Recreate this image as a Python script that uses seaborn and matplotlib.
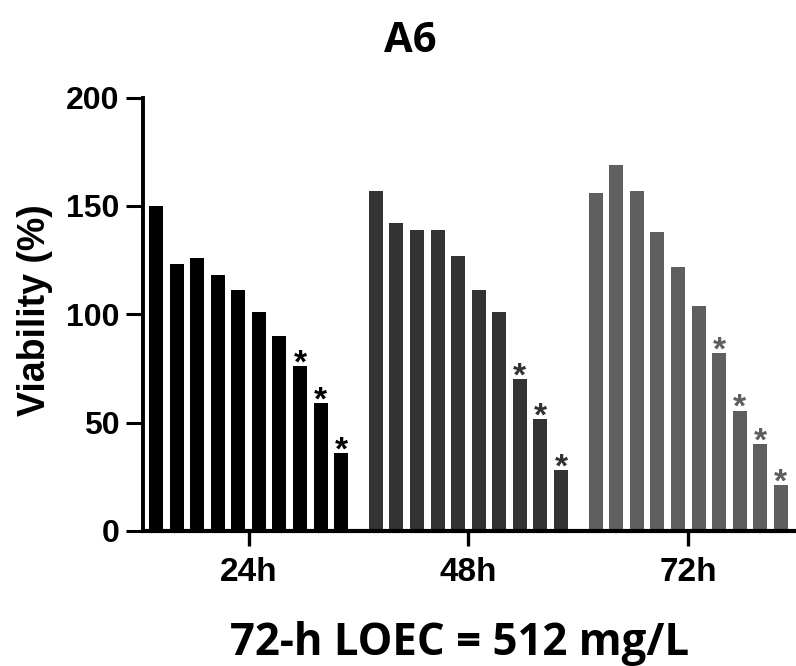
import matplotlib
matplotlib.use("Agg")
import matplotlib.pyplot as plt
import seaborn as sns
import pandas as pd

# ---- data ----
times = ["24h", "48h", "72h"]
conc_levels = ["C1", "C2", "C3", "C4", "C5", "C6", "C7", "C8", "C9", "C10"]
viab_24h = [150, 123, 126, 118, 111, 101, 90, 76, 59, 36]
viab_48h = [157, 142, 139, 139, 127, 111, 101, 70, 51.5, 28]
viab_72h = [156, 169, 157, 138, 122, 104, 82, 55.5, 40, 21]
sig_24h = [0, 0, 0, 0, 0, 0, 0, 1, 1, 1]
sig_48h = [0, 0, 0, 0, 0, 0, 0, 1, 1, 1]
sig_72h = [0, 0, 0, 0, 0, 0, 1, 1, 1, 1]
group_colors = ["#000000", "#333333", "#5f5f5f"]
y_ticks = [0, 50, 100, 150, 200]

values = [viab_24h, viab_48h, viab_72h]
sigs = [sig_24h, sig_48h, sig_72h]
df = pd.DataFrame({
    "time": [t for t in times for _ in conc_levels],
    "conc": conc_levels * len(times),
    "viability": [v for vals in values for v in vals],
})

sns.set_theme(style="ticks")
plt.rcParams["font.family"] = ["Liberation Sans", "DejaVu Sans"]
plt.rcParams["font.weight"] = "bold"
plt.rcParams["text.color"] = "black"
plt.rcParams["axes.labelcolor"] = "black"
plt.rcParams["xtick.color"] = "black"
plt.rcParams["ytick.color"] = "black"

fig = plt.figure(figsize=(7.96, 6.66), dpi=100)
ax = fig.add_axes([143 / 796, 1 - 531 / 666, 1 - 143 / 796, (531 - 97.5) / 666])

WIDTH = 0.936
sns.barplot(data=df, x="time", y="viability", hue="conc", order=times,
            hue_order=conc_levels, width=WIDTH, gap=0.32, dodge=True,
            legend=False, ax=ax, errorbar=None, linewidth=0, saturation=1)

period = WIDTH / len(conc_levels)
for p in ax.patches:
    cx = p.get_x() + p.get_width() / 2
    g = int(round(cx))
    i = int(round((cx - g) / period + (len(conc_levels) - 1) / 2))
    col = group_colors[g]
    p.set_facecolor(col)
    p.set_edgecolor(col)
    if sigs[g][i]:
        ax.annotate("*", xy=(cx, p.get_height()), xytext=(0, -4.5),
                    textcoords="offset points", ha="center", va="baseline",
                    fontsize=24, fontweight="bold", color=col)

ax.set_ylim(0, 200)
ax.set_xlim(-0.48, 2.49)
ax.set_yticks(y_ticks)
ax.set_yticklabels([str(t) for t in y_ticks])
ax.set_xlabel("")
ax.set_ylabel("")
for s in ["top", "right"]:
    ax.spines[s].set_visible(False)
ax.spines["left"].set_linewidth(2.8)
ax.spines["bottom"].set_linewidth(3.0)
ax.spines["left"].set_color("black")
ax.spines["bottom"].set_color("black")
ax.tick_params(axis="y", length=12, width=2.2, pad=5, labelsize=23, colors="black")
ax.tick_params(axis="x", length=11, width=2.4, pad=8, labelsize=24, colors="black")
for lab in ax.get_xticklabels() + ax.get_yticklabels():
    lab.set_fontweight("bold")

fig.text(35 / 796, 1 - 310 / 666, "Viability (%)", rotation=90, ha="center",
         va="center", fontsize=27, fontweight="bold", color="black",
         family=["Liberation Sans", "DejaVu Sans"])
fig.text(410 / 796, 1 - 52 / 666, "A6", ha="center", va="baseline",
         fontsize=30, fontweight="bold", color="black",
         family=["Open Sans", "DejaVu Sans"])
fig.text(460 / 796, 1 - 655 / 666, "72-h LOEC = 512 mg/L", ha="center",
         va="baseline", fontsize=31.5, fontweight="bold", color="black",
         family=["Open Sans", "DejaVu Sans"])

fig.savefig("out.png", dpi=100)
